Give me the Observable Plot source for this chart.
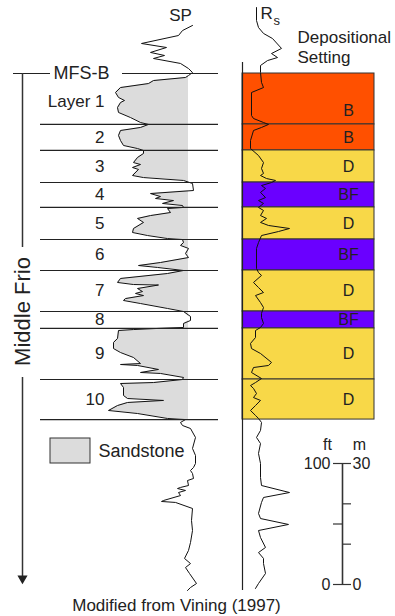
<!DOCTYPE html>
<html><head><meta charset="utf-8">
<script src="https://cdn.jsdelivr.net/npm/d3@7"></script>
<script src="https://cdn.jsdelivr.net/npm/@observablehq/plot@0.6"></script>
<style>
html,body{margin:0;padding:0;background:#fff;}
#chart{position:relative;width:395px;height:616px;overflow:hidden;}
#chart svg{position:absolute;left:0;top:0;}
</style></head><body><div id="chart"></div>
<script>
// ---------- data ----------
const layerNames = ["Layer 1","2","3","4","5","6","7","8","9","10"];
const layerTops  = [0, 42.1, 63.6, 90.1, 110.7, 137.2, 162.8, 196.7, 210.7, 252.9]; // ft below MFS-B
const layerBases = [42.1, 63.6, 90.1, 110.7, 137.2, 162.8, 196.7, 210.7, 252.9, 286.0];
const settings   = ["B","B","D","BF","D","BF","D","BF","D","D"];
const settingTypes  = ["B","D","BF"];
const settingColors = ["#FF5000","#F8D848","#6A00FF"];

// SP log (depth ft, SP deflection mV relative to shale baseline)
const spDepth = [-39.7,-35.5,-31.4,-24.8,-21.5,-17.4,-14.9,-12.4,-8.3,-4.1,-0.8,1.7,3.3,5.8,8.3,11.6,15.7,19.8,22.3,24.0,28.1,32.2,36.4,40.5,42.1,44.6,47.1,51.2,55.4,59.5,62.0,63.6,66.1,69.4,73.6,75.2,77.7,79.3,84.3,86.0,88.4,90.9,96.7,99.2,101.7,103.3,105.0,107.4,109.1,110.7,111.6,114.9,117.4,119.8,123.1,128.1,131.4,133.9,136.4,137.2,139.7,142.1,144.6,148.8,152.1,156.2,158.7,160.3,162.8,165.3,169.4,172.7,174.4,174.8,177.7,180.2,181.8,183.5,186.0,187.6,190.1,194.2,196.7,200.8,204.1,206.6,209.9,210.7,211.6,212.4,219.0,222.3,227.3,230.6,234.7,239.7,240.5,241.3,244.6,247.1,247.9,251.2,252.9,255.4,256.2,259.5,266.1,268.6,270.2,271.9,274.4,278.5,281.0,285.1,286.0,288.4,290.9,293.4,300.8,309.9,315.7,322.3,325.6,328.1,330.6,334.7,336.4,340.5,342.1,343.0,344.6,346.3,348.8,352.9,353.7,354.5,359.5,369.4,377.7,387.6,394.2,400.8,405.0,408.3,413.2,421.5,424.8,427.3];
const spValue = [4,-6,-10,-47,-22,-38,-24,-35,-8,0,4,0,-3,-35,-40,-68,-73,-70,-64,-68,-71,-70,-58,-48,-40,-48,-68,-70,-68,-65,-51,-45,-45,-51,-55,-48,-56,-50,-56,-45,-5,4,5,-38,-28,-33,-15,-26,-6,-5,-21,-18,-38,-51,-45,-55,-56,-41,-21,-6,-5,-8,0,-3,0,-28,-50,-31,-5,-21,-68,-71,-55,-30,-51,-46,-53,-45,-63,-65,-48,-21,-5,2,2,-5,-5,-31,-55,-70,-71,-75,-75,-68,-55,-48,-68,-51,-30,-48,-28,-5,-6,-35,-68,-65,-65,-61,-25,-61,-71,-80,-51,-21,-3,-8,-6,2,7,4,7,7,5,2,4,5,-1,0,-8,-11,-3,-10,-8,-25,-27,-13,4,3,4,2,0,-4,2,-3,1,8,2,-1];

// Resistivity log (depth ft, ohm-m)
const rsDepth = [-54.5,-43.8,-38.0,-33.1,-28.9,-20.7,-16.5,-13.2,-10.7,-6.6,-0.8,7.4,11.6,15.7,34.7,37.2,40.5,42.1,44.6,47.1,55.4,62.0,67.8,73.6,78.5,82.6,84.3,86.8,88.4,90.1,92.6,95.0,98.3,102.5,105.0,107.4,110.7,113.2,117.4,119.8,123.1,125.6,128.1,130.6,133.9,139.7,144.6,161.2,164.5,166.9,172.7,176.9,181.0,183.5,189.3,193.4,198.3,201.7,206.6,209.9,212.4,218.2,223.1,227.3,231.4,238.8,241.3,243.0,247.1,252.1,255.4,257.9,260.3,264.5,267.8,270.2,274.4,278.5,282.6,285.1,288.4,295.0,300.8,305.8,314.0,322.3,333.9,340.5,346.3,350.4,354.5,363.6,367.8,372.7,377.7,383.5,391.7,395.9,400.8,405.0,413.2,421.5,425.6];
const rsValue = [1.4,1.4,1.6,2.1,3.0,3.9,2.9,3.5,2.5,1.8,1.8,1.9,2.1,0.9,0.9,1.1,2.1,2.6,1.9,1.1,0.8,0.8,1.6,2.1,1.9,2.1,1.8,2.4,3.3,2.9,1.9,2.3,1.8,2.3,1.6,2.1,1.6,2.1,1.8,2.4,1.8,2.6,4.7,3.6,1.9,1.6,1.4,1.4,1.6,1.9,1.1,1.6,2.1,1.3,1.8,2.1,1.9,1.9,2.1,1.8,1.3,1.3,0.8,0.9,1.8,2.9,2.6,1.1,0.9,1.9,1.3,0.8,1.1,1.4,1.1,1.8,1.3,0.8,1.3,1.6,1.9,1.8,1.4,1.8,1.6,1.8,1.8,1.9,4.7,2.1,1.9,1.6,1.8,4.6,1.6,1.8,2.3,1.6,2.1,2.1,2.3,1.6,1.3];

// scale bar
const scaleFtTicks = [0, 50, 100];
const scaleMTicks  = [0, 10, 20, 30];
const scaleFtLabels = ["0", "100"];
const scaleMLabels  = ["0", "30"];

// ---------- layout ----------
const W = 395, H = 616;
const Y = d3.scaleLinear([-73/1.21, 543/1.21], [0, H]);   // depth ft -> px (1.21 px/ft)
const py = p => Y.invert(p);
const font = "Liberation Sans, Arial, Helvetica, sans-serif";
const ink = "#222";

const layers = layerNames.map((n, i) => ({name: n, top: layerTops[i], base: layerBases[i], setting: settings[i], mid: (layerTops[i] + layerBases[i]) / 2}));
const sp = spDepth.map((d, i) => ({depth: d, sp: spValue[i]}));
const rs = rsDepth.map((d, i) => ({depth: d, rs: rsValue[i]}));
const spBase = 0;
const sand = sp.filter(d => d.depth >= layerTops[0] && d.depth <= layerBases[layerBases.length - 1]);

const common = {
  width: W, height: H, margin: 0,
  y: {domain: Y.domain(), range: Y.range(), axis: null},
  style: {background: "none", fontFamily: font, overflow: "visible"}
};

// SP track: 1 px per mV, shale baseline at 188 px
const spPlot = Plot.plot({
  ...common,
  x: {domain: [-188, W - 188], range: [0, W], axis: null},
  marks: [
    Plot.areaX(sand, {y: "depth", x1: d => Math.min(d.sp, spBase), x2: spBase, fill: "#dcdcdc"}),
    Plot.line(sp, {x: "sp", y: "depth", stroke: "#111", strokeWidth: 1})
  ]
});

// base: depositional column, layer lines, labels
const T = (arr, o) => Plot.text(arr, {fontFamily: font, fill: ink, ...o});
const mTop = scaleFtTicks[scaleFtTicks.length - 1];
const barBottom = py(584), barTop = barBottom - mTop;
const mToFt = m => m * mTop / scaleMTicks[scaleMTicks.length - 1];

const base = Plot.plot({
  ...common,
  x: {domain: [0, W], range: [0, W], axis: null},
  color: {domain: settingTypes, range: settingColors},
  marks: [
    Plot.rect(layers, {x1: 242, x2: 374, y1: "top", y2: "base", fill: "setting", stroke: "#333", strokeWidth: 1}),
    Plot.ruleY(layers, {y: "base", x1: 40, x2: 218, stroke: ink, strokeWidth: 1.2}),
    Plot.ruleY([layerTops[0]], {x1: 13, x2: 50, stroke: ink, strokeWidth: 1.2}),
    Plot.ruleY([layerTops[0]], {x1: 122, x2: 218, stroke: ink, strokeWidth: 1.2}),
    T(["MFS-B"], {x: 53, y: py(72.5), textAnchor: "start", fontSize: 18}),
    T(layers, {x: 104, y: (d, i) => i === 0 ? d.mid + 2 : d.mid, text: "name", textAnchor: "end", fontSize: 17}),
    T(layers, {x: 348, y: (d, i) => i === 0 ? d.mid + 10 : d.mid, text: "setting", fontSize: 16, fill: "#222"}),
    // Middle Frio arrow
    Plot.ruleX([22], {y1: layerTops[0], y2: py(247), stroke: "#333", strokeWidth: 1.5}),
    Plot.ruleX([22], {y1: py(377), y2: py(578), stroke: "#333", strokeWidth: 1.5}),
    Plot.dot([0], {x: 22, y: py(578), symbol: "triangle2", r: 3.6, rotate: 180, fill: "#222", stroke: "#222"}),
    T(["Middle Frio"], {x: 22, y: py(311), rotate: -90, fontSize: 22}),
    // headers
    T(["SP"], {x: 180, y: py(15), fontSize: 17}),
    T(["R"], {x: 260, y: py(13.5), textAnchor: "start", fontSize: 17}),
    T(["s"], {x: 273, y: py(20), textAnchor: "start", fontSize: 13}),
    T(["Depositional"], {x: 297, y: py(37.5), textAnchor: "start", fontSize: 17}),
    T(["Setting"], {x: 297, y: py(57.5), textAnchor: "start", fontSize: 17}),
    // legend
    Plot.rect([0], {x1: 50, x2: 90, y1: py(438), y2: py(463), fill: "#dcdcdc", stroke: "#333", strokeWidth: 1}),
    T(["Sandstone"], {x: 98, y: py(450.5), textAnchor: "start", fontSize: 18}),
    // scale bar
    Plot.ruleX([342], {y1: barTop, y2: barBottom, stroke: "#333", strokeWidth: 1.6}),
    Plot.ruleY(scaleFtTicks, {y: d => barBottom - d, x1: 333, x2: 342, stroke: "#333", strokeWidth: 1.2}),
    Plot.ruleY(scaleMTicks, {y: d => barBottom - mToFt(d), x1: 342, x2: 351, stroke: "#333", strokeWidth: 1.2}),
    T(["ft"], {x: 327, y: py(444.5), fontSize: 16}),
    T(["m"], {x: 359, y: py(444.5), fontSize: 16}),
    T(scaleFtLabels, {x: 330, y: (d) => barBottom - (+d), textAnchor: "end", fontSize: 16}),
    T(scaleMLabels, {x: 352, y: (d) => barBottom - mToFt(+d), textAnchor: "start", fontSize: 16}),
    // caption
    T(["Modified from Vining (1997)"], {x: 176, y: py(605.5), fontSize: 17})
  ]
});

// Rs track: 10 px per ohm-m, zero at 242 px
const rsPlot = Plot.plot({
  ...common,
  x: {domain: [-24.2, (W - 242) / 10], range: [0, W], axis: null},
  marks: [
    Plot.ruleX([0], {y1: py(62), y2: py(590), stroke: "#222", strokeWidth: 1.2}),
    Plot.line(rs, {x: "rs", y: "depth", stroke: "#111", strokeWidth: 1})
  ]
});

const el = document.getElementById("chart");
el.append(spPlot, base, rsPlot);
</script></body></html>
